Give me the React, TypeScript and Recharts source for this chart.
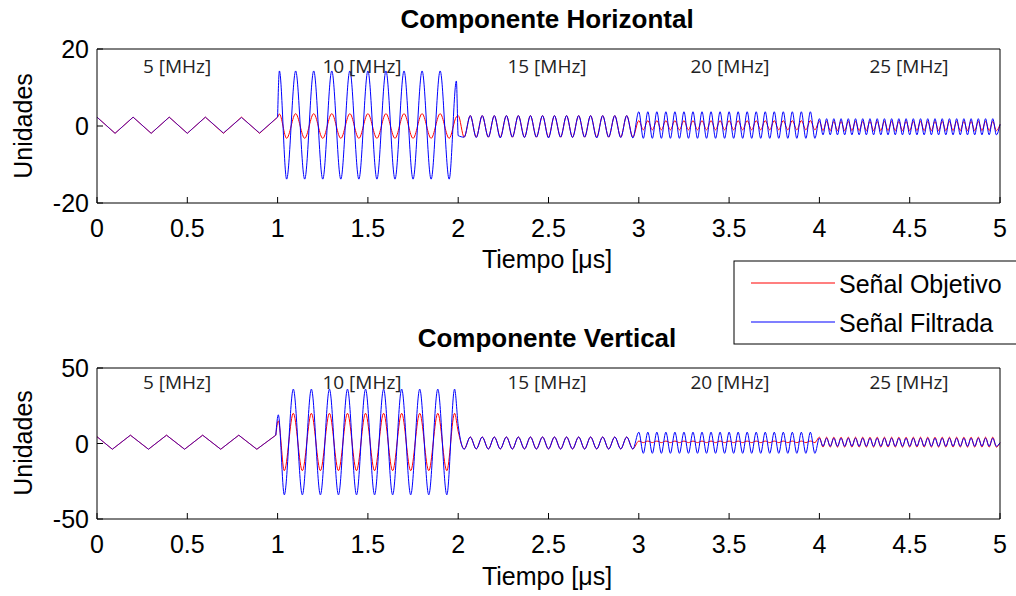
import React from 'react';
import { LineChart, Line, XAxis, YAxis } from 'recharts';

const FONT = '"Liberation Sans", Arial, Helvetica, sans-serif';
const SEG_FONT = '"Open Sans", "Noto Sans", sans-serif';

// ---------- axis ticks ----------
const xTicks = [0, 0.5, 1, 1.5, 2, 2.5, 3, 3.5, 4, 4.5, 5];
const hYTicks = [-20, 0, 20];
const vYTicks = [-50, 0, 50];
const hYDomain = [-20, 20];
const vYDomain = [-50, 50];

// ---------- text ----------
const seriesNames = ['Señal Objetivo', 'Señal Filtrada'];
const segmentLabels = ['5 [MHz]', '10 [MHz]', '15 [MHz]', '20 [MHz]', '25 [MHz]'];

// ---------- Componente Horizontal (vertices) ----------
const hTimeA = [0, 0.1, 0.2, 0.3, 0.4, 0.5, 0.6, 0.7, 0.8, 0.9, 1.0];
const hObjA = [2.3, -1.9, 2.3, -1.9, 2.3, -1.9, 2.3, -1.9, 2.3, -1.9, 2.3];
const hFilA = [2.3, -1.9, 2.3, -1.9, 2.3, -1.9, 2.3, -1.8, 2.2, -1.8, 2.3];

const hTimeB = [1.01, 1.05, 1.1, 1.15, 1.2, 1.25, 1.3, 1.35, 1.4, 1.45,
  1.5, 1.55, 1.6, 1.65, 1.7, 1.75, 1.8, 1.85, 1.9, 1.95, 1.99];
const hObjB = [3.1, -3.2, 3.2, -3.2, 3.2, -3.2, 3.2, -3.2, 3.2, -3.2,
  3.2, -3.2, 3.2, -3.2, 3.2, -3.2, 3.2, -3.2, 3.2, -3.2, 2.4];
const hFilB = [14.3, -13.8, 14.3, -13.8, 14.3, -13.8, 14.3, -13.8, 14.3, -13.8,
  14.3, -13.8, 14.3, -13.8, 14.3, -13.8, 14.3, -13.8, 14.3, -13.8, 11.7];

const timeC = [2.0, 2.033, 2.067, 2.1, 2.133, 2.167, 2.2, 2.233, 2.267, 2.3,
  2.333, 2.367, 2.4, 2.433, 2.467, 2.5, 2.533, 2.567, 2.6, 2.633,
  2.667, 2.7, 2.733, 2.767, 2.8, 2.833, 2.867, 2.9, 2.933, 2.967];
const hObjC = [2.7, -2.9, 2.7, -2.9, 2.7, -2.9, 2.7, -2.9, 2.7, -2.9,
  2.7, -2.9, 2.7, -2.9, 2.7, -2.9, 2.7, -2.9, 2.7, -2.9,
  2.7, -2.9, 2.7, -2.9, 2.7, -2.9, 2.7, -2.9, 2.7, -2.9];
const hFilC = [-2.5, -2.9, 2.7, -3.0, 2.7, -2.9, 2.7, -3.1, 2.7, -2.9,
  2.7, -3.0, 2.7, -2.9, 2.7, -3.1, 2.7, -2.9, 2.7, -3.0,
  2.7, -2.9, 2.7, -3.1, 2.7, -2.9, 2.7, -3.0, 2.7, -3.1];

const timeD = [3.0, 3.025, 3.05, 3.075, 3.1, 3.125, 3.15, 3.175, 3.2, 3.225,
  3.25, 3.275, 3.3, 3.325, 3.35, 3.375, 3.4, 3.425, 3.45, 3.475,
  3.5, 3.525, 3.55, 3.575, 3.6, 3.625, 3.65, 3.675, 3.7, 3.725,
  3.75, 3.775, 3.8, 3.825, 3.85, 3.875, 3.9, 3.925, 3.95, 3.975];
const hObjD = [1.4, -1.0, 1.4, -1.0, 1.4, -1.0, 1.4, -1.0, 1.4, -1.0,
  1.4, -1.0, 1.4, -1.0, 1.4, -1.0, 1.4, -1.0, 1.4, -1.0,
  1.4, -1.0, 1.4, -1.0, 1.4, -1.0, 1.4, -1.0, 1.4, -1.0,
  1.4, -1.0, 1.4, -1.0, 1.4, -1.0, 1.4, -1.0, 1.4, -1.0];
const hFilD = [3.7, -3.2, 3.7, -3.2, 3.7, -3.2, 3.7, -3.2, 3.7, -3.2,
  3.7, -3.2, 3.7, -3.2, 3.7, -3.2, 3.7, -3.2, 3.7, -3.2,
  3.7, -3.2, 3.7, -3.2, 3.7, -3.2, 3.7, -3.2, 3.7, -3.2,
  3.7, -3.2, 3.7, -3.2, 3.7, -3.2, 3.7, -3.2, 3.7, -3.2];

const timeE = [4.0, 4.02, 4.04, 4.06, 4.08, 4.1, 4.12, 4.14, 4.16, 4.18,
  4.2, 4.22, 4.24, 4.26, 4.28, 4.3, 4.32, 4.34, 4.36, 4.38,
  4.4, 4.42, 4.44, 4.46, 4.48, 4.5, 4.52, 4.54, 4.56, 4.58,
  4.6, 4.62, 4.64, 4.66, 4.68, 4.7, 4.72, 4.74, 4.76, 4.78,
  4.8, 4.82, 4.84, 4.86, 4.88, 4.9, 4.92, 4.94, 4.96, 4.98,
  5.0];
const hObjE = [1.2, -1.2, 1.2, -1.2, 1.2, -1.2, 1.2, -1.2, 1.2, -1.2,
  1.2, -1.2, 1.2, -1.2, 1.2, -1.2, 1.2, -1.2, 1.2, -1.2,
  1.2, -1.2, 1.2, -1.2, 1.2, -1.2, 1.2, -1.2, 1.2, -1.2,
  1.2, -1.2, 1.2, -1.2, 1.2, -1.2, 1.2, -1.2, 1.2, -1.2,
  1.2, -1.2, 1.2, -1.2, 1.2, -1.2, 1.2, -1.2, 1.2, -1.2,
  0.4];
const hFilE = [1.9, -2.3, 1.9, -2.3, 1.9, -2.3, 1.9, -2.3, 1.9, -2.3,
  1.9, -2.3, 1.9, -2.3, 1.9, -2.3, 1.9, -2.3, 1.9, -2.3,
  1.9, -2.3, 1.9, -2.3, 1.9, -2.3, 1.9, -2.3, 1.9, -2.3,
  1.9, -2.3, 1.9, -2.3, 1.9, -2.3, 1.9, -2.3, 1.9, -2.3,
  1.9, -2.3, 1.9, -2.3, 1.9, -2.3, 1.9, -2.3, 1.9, -2.3,
  0.4];

// ---------- Componente Vertical ----------
const vTimeA = [0, 0.085, 0.185, 0.285, 0.385, 0.485, 0.585, 0.685, 0.785, 0.885, 0.99];
const vObjA = [4.5, -3.8, 5.5, -3.8, 5.5, -3.8, 5.5, -3.8, 5.5, -3.8, 5.5];
const vFilA = [4.5, -3.8, 5.5, -3.8, 5.5, -3.8, 5.5, -3.8, 5.5, -3.8, 5.5];

const vTimeB = [1.004, 1.037, 1.087, 1.137, 1.187, 1.237, 1.287, 1.337, 1.387, 1.437,
  1.487, 1.537, 1.587, 1.637, 1.687, 1.737, 1.787, 1.837, 1.887, 1.937, 1.98];
const vObjB = [15, -18, 20, -18, 20, -18, 20, -18, 20, -18,
  20, -18, 20, -18, 20, -18, 20, -18, 20, -18, 20];
const vFilB = [19, -34, 36, -34, 36, -34, 36, -34, 36, -34,
  36, -34, 36, -34, 36, -34, 36, -34, 36, -34, 36];

const vObjC = [8, -3.6, 4.3, -3.6, 4.3, -3.6, 4.3, -3.6, 4.3, -3.6,
  4.3, -3.6, 4.3, -3.6, 4.3, -3.6, 4.3, -3.6, 4.3, -3.6,
  4.3, -3.6, 4.3, -3.6, 4.3, -3.6, 4.3, -3.6, 4.3, -3.6];
const vFilC = [12, -3.8, 4.3, -3.6, 4.3, -3.7, 4.3, -3.6, 4.3, -3.7,
  4.3, -3.6, 4.3, -3.7, 4.3, -3.6, 4.3, -3.7, 4.3, -3.6,
  4.3, -3.7, 4.3, -3.6, 4.3, -3.7, 4.3, -3.6, 4.3, -3.7];

const vObjD = [1.6, 0.6, 1.6, 0.6, 1.6, 0.6, 1.6, 0.6, 1.6, 0.6,
  1.6, 0.6, 1.6, 0.6, 1.6, 0.6, 1.6, 0.6, 1.6, 0.6,
  1.6, 0.6, 1.6, 0.6, 1.6, 0.6, 1.6, 0.6, 1.6, 0.6,
  1.6, 0.6, 1.6, 0.6, 1.6, 0.6, 1.6, 0.6, 1.6, 0.6];
const vFilD = [7.5, -6.5, 7.5, -6.5, 7.5, -6.5, 7.5, -6.5, 7.5, -6.5,
  7.5, -6.5, 7.5, -6.5, 7.5, -6.5, 7.5, -6.5, 7.5, -6.5,
  7.5, -6.5, 7.5, -6.5, 7.5, -6.5, 7.5, -6.5, 7.5, -6.5,
  7.5, -6.5, 7.5, -6.5, 7.5, -6.5, 7.5, -6.5, 7.5, -6.5];

const vObjE = [4.2, -2.4, 4.2, -2.4, 4.2, -2.4, 4.2, -2.4, 4.2, -2.4,
  4.2, -2.4, 4.2, -2.4, 4.2, -2.4, 4.2, -2.4, 4.2, -2.4,
  4.2, -2.4, 4.2, -2.4, 4.2, -2.4, 4.2, -2.4, 4.2, -2.4,
  4.2, -2.4, 4.2, -2.4, 4.2, -2.4, 4.2, -2.4, 4.2, -2.4,
  4.2, -2.4, 4.2, -2.4, 4.2, -2.4, 4.2, -2.4, 4.2, -2.4,
  0.5];
const vFilE = [3.5, -1.8, 3.5, -1.8, 3.5, -1.8, 3.5, -1.8, 3.5, -1.8,
  3.5, -1.8, 3.5, -1.8, 3.5, -1.8, 3.5, -1.8, 3.5, -1.8,
  3.5, -1.8, 3.5, -1.8, 3.5, -1.8, 3.5, -1.8, 3.5, -1.8,
  3.5, -1.8, 3.5, -1.8, 3.5, -1.8, 3.5, -1.8, 3.5, -1.8,
  3.5, -1.8, 3.5, -1.8, 3.5, -1.8, 3.5, -1.8, 3.5, -1.8,
  0.5];

// ---------- build tables for the library ----------
type Row = { t: number; obj: number; fil: number };
function buildRows(times: number[], obj: number[], fil: number[]): Row[] {
  return times.map((t, i) => ({ t, obj: obj[i], fil: fil[i] }));
}

const hRowsA = buildRows(hTimeA, hObjA, hFilA);
const hRowsRest = [
  hRowsA[hRowsA.length - 1],
  ...buildRows(hTimeB, hObjB, hFilB),
  ...buildRows(timeC, hObjC, hFilC),
  ...buildRows(timeD, hObjD, hFilD),
  ...buildRows(timeE, hObjE, hFilE),
];
const vRowsA = buildRows(vTimeA, vObjA, vFilA);
const vRowsRest = [
  vRowsA[vRowsA.length - 1],
  ...buildRows(vTimeB, vObjB, vFilB),
  ...buildRows(timeC, vObjC, vFilC),
  ...buildRows(timeD, vObjD, vFilD),
  ...buildRows(timeE, vObjE, vFilE),
];

// ---------- ticks (MATLAB style: inward) ----------
const TICK = 6;
const BottomTick = (p: any) => (
  <g>
    <line x1={p.x} y1={p.y} x2={p.x} y2={p.y - TICK} stroke="#000" strokeWidth={1} />
    <text x={p.x} y={p.y + 34} textAnchor="middle" fontSize={25} fontFamily={FONT} fill="#000">
      {String(p.payload.value)}
    </text>
  </g>
);
const TopTick = (p: any) => (
  <line x1={p.x} y1={p.y} x2={p.x} y2={p.y + TICK} stroke="#000" strokeWidth={1} />
);
const LeftTick = (p: any) => (
  <g>
    <line x1={p.x} y1={p.y} x2={p.x + TICK} y2={p.y} stroke="#000" strokeWidth={1} />
    <text x={p.x - 8} y={p.y + 9} textAnchor="end" fontSize={25} fontFamily={FONT} fill="#000">
      {String(p.payload.value)}
    </text>
  </g>
);
const RightTick = (p: any) => (
  <line x1={p.x} y1={p.y} x2={p.x - TICK} y2={p.y} stroke="#000" strokeWidth={1} />
);

type PanelProps = {
  top: number;
  height: number;
  margin: { top: number; right: number; bottom: number; left: number };
  yDomain: number[];
  yTicks: number[];
  rowsA: Row[];
  rowsRest: Row[];
};

function Panel({ top, height, margin, yDomain, yTicks, rowsA, rowsRest }: PanelProps) {
  return (
    <div style={{ position: 'absolute', left: 0, top, width: 1016, height }}>
      <LineChart width={1016} height={height} margin={margin}>
        <XAxis xAxisId="b" type="number" dataKey="t" domain={[0, 5]} ticks={xTicks} interval={0}
          height={1} tickSize={0} tickMargin={0} tickLine={false} stroke="#000"
          tick={(p: any) => <BottomTick {...p} />} />
        <XAxis xAxisId="t" orientation="top" type="number" dataKey="t" domain={[0, 5]} ticks={xTicks} interval={0}
          height={1} tickSize={0} tickMargin={0} tickLine={false} stroke="#000"
          tick={(p: any) => <TopTick {...p} />} />
        <YAxis yAxisId="l" type="number" domain={yDomain} ticks={yTicks} interval={0}
          width={1} tickSize={0} tickMargin={0} tickLine={false} stroke="#000"
          tick={(p: any) => <LeftTick {...p} />} />
        <YAxis yAxisId="r" orientation="right" type="number" domain={yDomain} ticks={yTicks} interval={0}
          width={1} tickSize={0} tickMargin={0} tickLine={false} stroke="#000"
          tick={(p: any) => <RightTick {...p} />} />
        <Line xAxisId="b" yAxisId="l" data={rowsA} dataKey="obj" name={seriesNames[0]} type="linear"
          stroke="#ff0000" strokeWidth={1} dot={false} activeDot={false} isAnimationActive={false} />
        <Line xAxisId="b" yAxisId="l" data={rowsRest} dataKey="obj" name={seriesNames[0]} type="monotone"
          stroke="#ff0000" strokeWidth={1} dot={false} activeDot={false} isAnimationActive={false} />
        <Line xAxisId="b" yAxisId="l" data={rowsA} dataKey="fil" name={seriesNames[1]} type="linear"
          stroke="#0000ff" strokeOpacity={0.65} strokeWidth={1} dot={false} activeDot={false} isAnimationActive={false} />
        <Line xAxisId="b" yAxisId="l" data={rowsRest} dataKey="fil" name={seriesNames[1]} type="monotone"
          stroke="#0000ff" strokeWidth={1} dot={false} activeDot={false} isAnimationActive={false} />
      </LineChart>
    </div>
  );
}

const segCenters = [177, 362, 547, 730, 909];

export default function App() {
  return (
    <div style={{ position: 'absolute', left: 0, top: 0, width: 1016, height: 596, background: '#fff', overflow: 'hidden' }}>
      <Panel top={0} height={300} margin={{ top: 48, right: 15, bottom: 96, left: 96 }}
        yDomain={hYDomain} yTicks={hYTicks} rowsA={hRowsA} rowsRest={hRowsRest} />
      <Panel top={300} height={296} margin={{ top: 67, right: 15, bottom: 76, left: 96 }}
        yDomain={vYDomain} yTicks={vYTicks} rowsA={vRowsA} rowsRest={vRowsRest} />
      <svg width={1016} height={596} style={{ position: 'absolute', left: 0, top: 0, pointerEvents: 'none' }}>
        <g fontFamily={FONT} fill="#000">
          <text x={547} y={28} textAnchor="middle" fontSize={26} fontWeight="bold">Componente Horizontal</text>
          <text x={547} y={347} textAnchor="middle" fontSize={26} fontWeight="bold">Componente Vertical</text>
          <text x={547} y={268} textAnchor="middle" fontSize={25}>Tiempo [μs]</text>
          <text x={547} y={585} textAnchor="middle" fontSize={25}>Tiempo [μs]</text>
          <text transform="translate(32,126) rotate(-90)" textAnchor="middle" fontSize={25}>Unidades</text>
          <text transform="translate(32,443) rotate(-90)" textAnchor="middle" fontSize={25}>Unidades</text>
        </g>
        <g fontFamily={SEG_FONT} fill="#222" fontSize={19}>
          {segmentLabels.map((s, i) => (
            <text key={'a' + i} x={segCenters[i]} y={73} textAnchor="middle">{s}</text>
          ))}
          {segmentLabels.map((s, i) => (
            <text key={'b' + i} x={segCenters[i]} y={389} textAnchor="middle">{s}</text>
          ))}
        </g>
        <rect x={734} y={261} width={300} height={83} fill="#fff" stroke="#000" strokeWidth={1} />
        <line x1={751} y1={283} x2={835} y2={283} stroke="#ff0000" strokeWidth={1.2} />
        <line x1={751} y1={322} x2={835} y2={322} stroke="#0000ff" strokeWidth={1.2} />
        <g fontFamily={FONT} fill="#000" fontSize={25}>
          <text x={839} y={293}>{seriesNames[0]}</text>
          <text x={839} y={332}>{seriesNames[1]}</text>
        </g>
      </svg>
    </div>
  );
}
